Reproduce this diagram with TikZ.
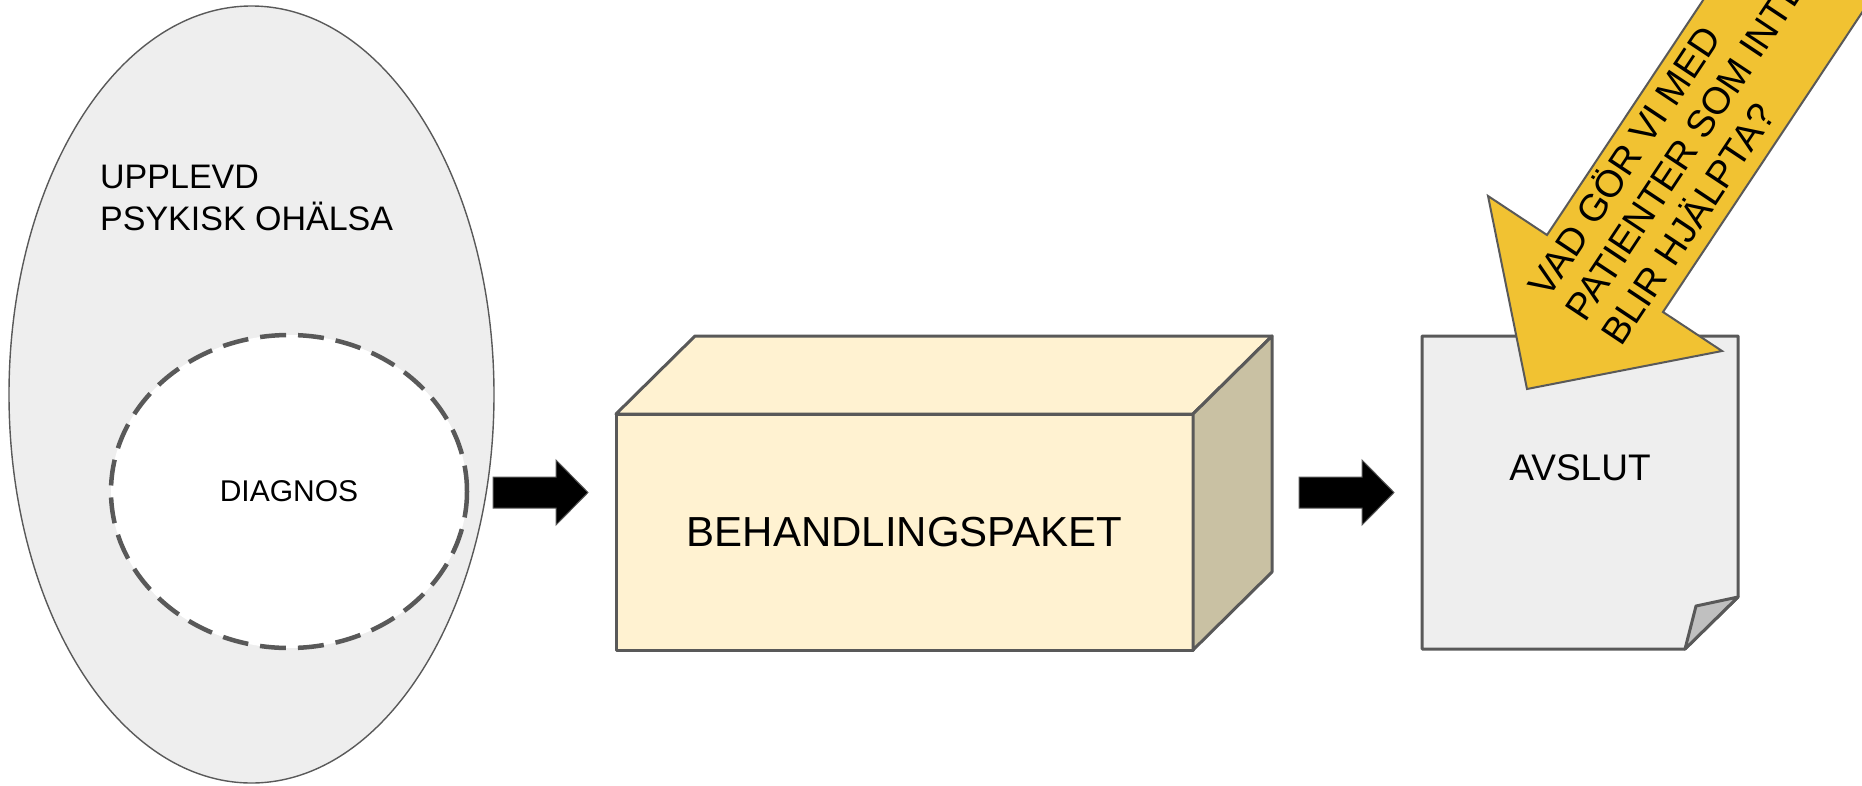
\documentclass[tikz,border=0pt]{standalone}
\usepackage{fontspec}
\setmainfont{Liberation Sans}
\usepackage{xcolor}
\usepackage{tikz}
\usetikzlibrary{shapes}
\usetikzlibrary{calc}
\definecolor{linegray}{HTML}{595959}
\definecolor{blobgray}{HTML}{EEEEEE}
\definecolor{boxcream}{HTML}{FFF2D1}
\definecolor{boxside}{HTML}{C9C1A3}
\definecolor{foldgray}{HTML}{C0C0C0}
\definecolor{arrowyellow}{HTML}{F1C232}

\begin{document}
\begin{tikzpicture}[x=1pt, y=-1pt]
\tikzset{blob/.style={ellipse, draw=linegray, line width=1.4pt, fill=blobgray, inner sep=0pt}}
\tikzset{diagblob/.style={ellipse, draw=linegray, line width=4.5pt, dash pattern=on 26pt off 12pt, fill=white, inner sep=0pt, font=\fontsize{30}{36}\selectfont}}
\tikzset{boxline/.style={draw=linegray, line width=3pt, line join=round}}
\tikzset{fatarrow/.style={fill=black, draw=linegray, line width=1pt}}
    \useasboundingbox (0,0) rectangle (1862,785);

    \node[blob, minimum width=485pt, minimum height=777pt] (ohalsa) at (251.5,394.5) {};
    \node[anchor=north west, inner sep=0pt, align=left, font=\fontsize{34}{42}\selectfont] (upplevd) at (100,165) {UPPLEVD\\PSYKISK OHÄLSA};
    \node[diagblob, minimum width=356pt, minimum height=313pt] (diagnos) at (289,491.5) {DIAGNOS};

% % % % % % % % % % % % % % % % % % %
    \node[boxline, fill=boxcream, minimum width=577pt, minimum height=236pt, inner sep=0pt, outer sep=0pt, font=\fontsize{42}{50}\selectfont] (paket) at (904.5,532) {BEHANDLINGSPAKET};
    \draw[boxline, fill=boxcream] (paket.north west) -- ++(79,-78) -- ++(577,0) -- (paket.north east) -- cycle;
    \draw[boxline, fill=boxside] (paket.north east) -- ++(79,-78) -- ++(0,236) -- (paket.south east) -- cycle;

    \foreach \dx in {0,806} {
        \draw[fatarrow] (493+\dx,477) -- (556+\dx,477) -- (556+\dx,460) -- (588+\dx,492.5)
            -- (556+\dx,525) -- (556+\dx,508) -- (493+\dx,508) -- cycle;
    }

% % % % % % % % % % % % % % % % % % %
    \coordinate (Anw) at (1422,336);
    \coordinate (Ane) at (1738,336);
    \coordinate (Af1) at (1738,597);
    \coordinate (Af2) at (1685,649);
    \coordinate (Afi) at (1696,606);
    \coordinate (Asw) at (1422,649);

    \draw[boxline, fill=blobgray] (Anw) -- (Ane) -- (Af1) -- (Af2) -- (Asw) -- cycle;
    \draw[boxline, fill=foldgray] (Af1) -- (Afi) -- (Af2) -- cycle;
    \node[font=\fontsize{37}{44}\selectfont] (avslut) at (1580,468) {AVSLUT};

% % % % % % % % % % % % % % % % % % %
    \coordinate (Ytip) at (1527,389);
    \coordinate (Yr) at (1722,351);
    \coordinate (Yri) at (1663,312);
    \coordinate (Yl) at (1488,196);
    \coordinate (Yli) at (1547,235);

    \draw[fill=arrowyellow, draw=linegray, line width=2pt] (Ytip) -- (Yr) -- (Yri) -- ++(216,-325)
        -- ($(Yli)+(216,-325)$) -- (Yli) -- (Yl) -- cycle;
    \node[rotate=56.4, anchor=west, align=left, inner sep=0pt, font=\fontsize{38}{44}\selectfont] (fraga) at (1572,315) {VAD GÖR VI MED\\PATIENTER SOM INTE\\BLIR HJÄLPTA?};

\end{tikzpicture}
\end{document}
